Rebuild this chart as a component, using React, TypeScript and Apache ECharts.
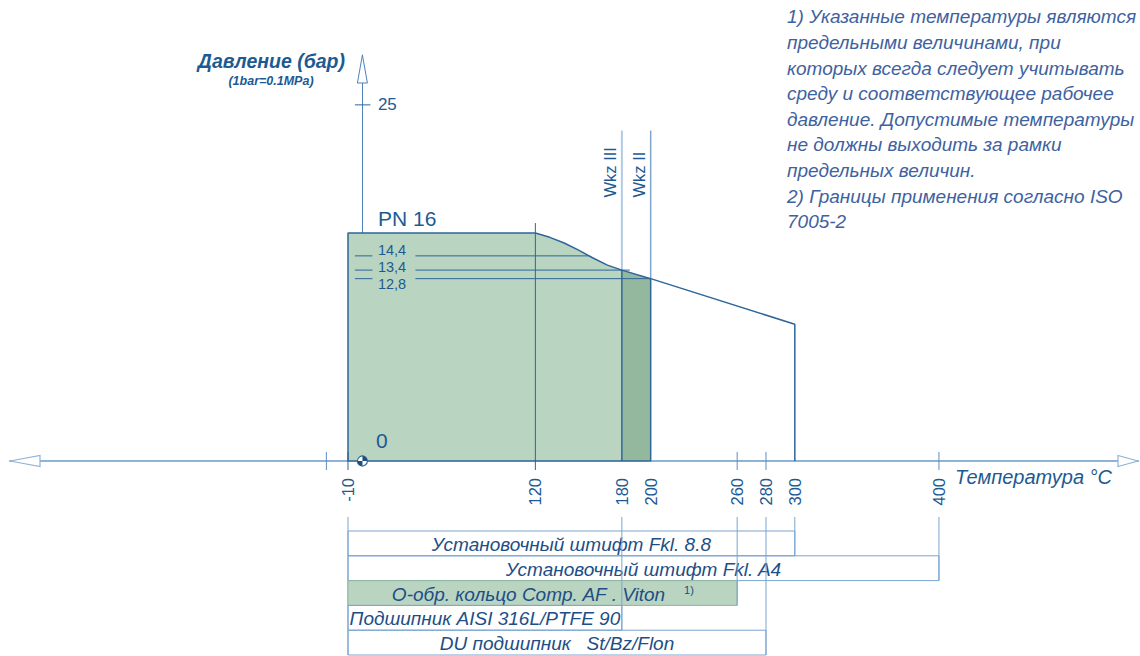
import React, { useEffect, useRef } from "react";
import * as echarts from "echarts";

// ---- data ----
const X_MIN = -244.5;
const X_MAX = 538.1;
const Y_MAX = 28.5;

// pressure-temperature limit curve (°C, bar)
const CURVE_T = [-10, 120, 130, 140, 150, 160, 170, 180, 200, 300];
const CURVE_P = [16, 16, 15.7, 15.3, 14.8, 14.25, 13.75, 13.4, 12.8, 9.6];

const X_LABELS = [-10, 120, 180, 200, 260, 280, 300, 400];
const X_TICKS = [-25, -10, 120, 260, 280, 400];
const Y_MARKS = [25, 14.4, 13.4, 12.8];
const WKZ_T = [180, 200];
const WKZ_LABELS = ["Wkz III", "Wkz II"];
const WKZ_TOP = 23.2;
const WKZ_LABEL_BOTTOM = 18.5;

const ROW_LABELS = [
  "Установочный штифт Fkl. 8.8",
  "Установочный штифт Fkl. A4",
  "О-обр. кольцо Comp. AF . Viton",
  "Подшипник AISI 316L/PTFE 90",
  "DU подшипник   St/Bz/Flon",
];
const ROW_START = [-10, -10, -10, -10, -10];
const ROW_END = [300, 400, 260, 180, 280];
const ROW_FILLED = [false, false, true, false, false];
const ROW_NOTE = ["", "", "1)", "", ""];

const NOTE_LINES = [
  "1) Указанные температуры являются",
  "предельными величинами, при",
  "которых всегда следует учитывать",
  "среду и соответствующее рабочее",
  "давление. Допустимые температуры",
  "не должны выходить за рамки",
  "предельных величин.",
  "2) Границы применения согласно ISO",
  "7005-2",
];

// ---- styles ----
const FONT = "'Liberation Sans', Arial, Helvetica, sans-serif";
const TEXT_BLUE = "#1d5a92";
const NOTE_BLUE = "#3e62a0";
const LINE_DARK = "#2e6699";
const LINE_MID = "#5d8fc0";
const LINE_LIGHT = "#b0cbe2";
const AXIS_LIGHT = "#8fb3d4";
const GREEN = "#b9d4c1";
const GREEN_DARK = "#93b89e";
const TABLE_LINE = "#7aa5cf";
const MARK_NUDGE = [0, -5.9, -3.1, 5.4];

function curveAt(t: number): number {
  for (let i = 0; i < CURVE_T.length - 1; i++) {
    const a = CURVE_T[i], b = CURVE_T[i + 1];
    if (t >= a && t <= b) {
      const f = b === a ? 0 : (t - a) / (b - a);
      return CURVE_P[i] + f * (CURVE_P[i + 1] - CURVE_P[i]);
    }
  }
  return 0;
}
function curveCross(v: number): number {
  for (let i = 1; i < CURVE_T.length - 1; i++) {
    const pa = CURVE_P[i], pb = CURVE_P[i + 1];
    if (v <= pa && v >= pb) {
      const f = pa === pb ? 0 : (pa - v) / (pa - pb);
      return CURVE_T[i] + f * (CURVE_T[i + 1] - CURVE_T[i]);
    }
  }
  return CURVE_T[0];
}

export default function App() {
  const ref = useRef<HTMLDivElement>(null);
  useEffect(() => {
    if (!ref.current) return;
    const chart = echarts.init(ref.current, null, { renderer: "svg" });
    const pts = CURVE_T.map((t, i) => [t, CURVE_P[i]]);
    const lightFill = pts.filter((p) => p[0] <= 180);
    const darkFill = pts.filter((p) => p[0] >= 180 && p[0] <= 200);
    const outline = [[200, 0], [-10, 0], ...pts, [300, 0]];

    const option: any = {
      animation: false,
      backgroundColor: "#ffffff",
      grid: [
        { left: 10, right: 2, top: 55, bottom: 195 },
        { left: 10, right: 2, top: 531, bottom: 1 },
      ],
      xAxis: [
        {
          type: "value",
          gridIndex: 0,
          min: X_MIN,
          max: X_MAX,
          axisLine: { show: true, onZero: true, lineStyle: { color: AXIS_LIGHT, width: 2 } },
          axisTick: { show: false },
          splitLine: { show: false },
          axisLabel: {
            customValues: X_LABELS,
            rotate: 90,
            margin: 17,
            color: TEXT_BLUE,
            fontSize: 16.5,
            fontFamily: FONT,
          },
        },
        { type: "value", gridIndex: 1, min: X_MIN, max: X_MAX, show: false },
      ],
      yAxis: [
        {
          type: "value",
          gridIndex: 0,
          min: 0,
          max: Y_MAX,
          axisLine: { show: true, onZero: true, lineStyle: { color: "#4f83b8", width: 1 } },
          axisTick: { show: false },
          axisLabel: { show: false },
          splitLine: { show: false },
        },
        { type: "category", gridIndex: 1, data: ROW_LABELS, inverse: true, show: false },
      ],
      series: [
        {
          type: "line",
          data: lightFill,
          showSymbol: false,
          lineStyle: { width: 0 },
          areaStyle: { color: GREEN, opacity: 1, origin: "start" },
          z: 1,
          silent: true,
        },
        {
          type: "line",
          data: darkFill,
          showSymbol: false,
          lineStyle: { width: 0 },
          areaStyle: { color: GREEN_DARK, opacity: 1, origin: "start" },
          z: 1,
          silent: true,
        },
        {
          // Wkz lines and labels
          type: "custom",
          xAxisIndex: 0,
          yAxisIndex: 0,
          z: 2,
          data: WKZ_T.map((t) => [t, curveAt(t)]),
          encode: { x: 0, y: 1 },
          renderItem: (params: any, api: any) => {
            const t = api.value(0);
            const v = api.value(1);
            const top = api.coord([t, WKZ_TOP]);
            const mid = api.coord([t, v]);
            const bot = api.coord([t, 0]);
            const lb = api.coord([t, WKZ_LABEL_BOTTOM]);
            const i = params.dataIndex;
            return {
              type: "group",
              children: [
                {
                  type: "line",
                  shape: { x1: top[0], y1: top[1], x2: mid[0], y2: mid[1] },
                  style: { stroke: i === 0 ? LINE_LIGHT : "#7fa6cb", lineWidth: i === 0 ? 2 : 1.5 },
                },
                {
                  type: "line",
                  shape: { x1: mid[0], y1: mid[1], x2: bot[0], y2: bot[1] },
                  style: { stroke: LINE_DARK, lineWidth: 1.5 },
                },
                {
                  type: "text",
                  x: top[0] - 12,
                  y: lb[1],
                  rotation: Math.PI / 2,
                  style: {
                    x: 0,
                    y: 0,
                    text: WKZ_LABELS[i],
                    align: "left",
                    verticalAlign: "middle",
                    fill: TEXT_BLUE,
                    font: `16.5px ${FONT}`,
                  },
                },
              ],
            };
          },
        },
        {
          // x ticks / guide lines
          type: "custom",
          xAxisIndex: 0,
          yAxisIndex: 0,
          z: 2,
          data: X_TICKS.map((t) => [t, 0]),
          encode: { x: 0, y: 1 },
          renderItem: (params: any, api: any) => {
            const t = api.value(0);
            const p = api.coord([t, 0]);
            let y1 = p[1] - 9;
            let color = LINE_MID;
            if (t === 120) {
              y1 = api.coord([t, curveAt(t)])[1] - 10;
              color = LINE_DARK;
            }
            if (t === -10) color = LINE_DARK;
            return {
              type: "line",
              shape: { x1: p[0], y1, x2: p[0], y2: p[1] + 9 },
              style: { stroke: color, lineWidth: 1 },
            };
          },
        },
        {
          type: "line",
          data: outline,
          showSymbol: false,
          lineStyle: { color: LINE_DARK, width: 1.5 },
          z: 3,
          silent: true,
        },
        {
          // y marks: ticks, labels, extension lines
          type: "custom",
          xAxisIndex: 0,
          yAxisIndex: 0,
          z: 4,
          data: Y_MARKS.map((v) => [0, v]),
          encode: { x: 0, y: 1 },
          renderItem: (params: any, api: any) => {
            const v = api.value(1);
            const i = params.dataIndex;
            const p = api.coord([0, v]);
            const children: any[] = [
              {
                type: "line",
                shape: { x1: p[0] - 7.5, y1: p[1], x2: p[0] + (v > 20 ? 8 : 10), y2: p[1] },
                style: { stroke: LINE_DARK, lineWidth: 1 },
              },
              {
                type: "text",
                style: {
                  x: p[0] + 15.5,
                  y: p[1] + MARK_NUDGE[i],
                  text: String(v).replace(".", ","),
                  align: "left",
                  verticalAlign: "middle",
                  fill: TEXT_BLUE,
                  font: `${v > 20 ? 17 : 14.5}px ${FONT}`,
                },
              },
            ];
            if (v < 20) {
              const e = api.coord([curveCross(v), v]);
              children.push({
                type: "line",
                shape: { x1: p[0] + 53, y1: p[1], x2: e[0] + (v === 13.4 ? 8 : 0), y2: p[1] },
                style: { stroke: LINE_DARK, lineWidth: 1 },
              });
            }
            return { type: "group", children };
          },
        },
        {
          // origin symbol + y arrow
          type: "custom",
          xAxisIndex: 0,
          yAxisIndex: 0,
          z: 5,
          data: [[0, 0]],
          encode: { x: 0, y: 1 },
          renderItem: (params: any, api: any) => {
            const o = api.coord([0, 0]);
            const top = api.coord([0, Y_MAX]);
            const r = 5;
            return {
              type: "group",
              children: [
                {
                  type: "polygon",
                  shape: { points: [[top[0], top[1]], [top[0] - 5, top[1] + 28], [top[0] + 5, top[1] + 28]] },
                  style: { fill: "#ffffff", stroke: "#4f83b8", lineWidth: 1 },
                },
                {
                  type: "circle",
                  shape: { cx: o[0], cy: o[1], r },
                  style: { fill: "#ffffff", stroke: LINE_DARK, lineWidth: 1.2 },
                },
                {
                  type: "sector",
                  shape: { cx: o[0], cy: o[1], r, r0: 0, startAngle: -Math.PI / 2, endAngle: 0 },
                  style: { fill: "#1f4f80" },
                },
                {
                  type: "sector",
                  shape: { cx: o[0], cy: o[1], r, r0: 0, startAngle: Math.PI / 2, endAngle: Math.PI },
                  style: { fill: "#1f4f80" },
                },
              ],
            };
          },
        },
        {
          // application ranges table
          type: "custom",
          xAxisIndex: 1,
          yAxisIndex: 1,
          z: 2,
          data: ROW_LABELS.map((l, i) => [ROW_START[i], ROW_END[i], i]),
          encode: { x: [0, 1], y: 2 },
          renderItem: (params: any, api: any) => {
            const i = params.dataIndex;
            const s = api.coord([api.value(0), i]);
            const e = api.coord([api.value(1), i]);
            const h = api.size([0, 1])[1];
            const top = s[1] - h / 2;
            const bottom = s[1] + h / 2;
            const extTop = params.coordSys.y - 14;
            const children: any[] = [
              {
                type: "rect",
                shape: { x: s[0], y: top, width: e[0] - s[0], height: h },
                style: {
                  fill: ROW_FILLED[i] ? GREEN : "rgba(255,255,255,0)",
                  stroke: ROW_FILLED[i] ? "#8fb5a0" : TABLE_LINE,
                  lineWidth: 1,
                },
              },
              {
                type: "line",
                shape: { x1: e[0], y1: extTop, x2: e[0], y2: bottom },
                style: { stroke: TABLE_LINE, lineWidth: 1 },
              },
              {
                type: "text",
                style: {
                  x: (s[0] + e[0]) / 2,
                  y: s[1] + 1,
                  text: ROW_NOTE[i] ? `{m|${ROW_LABELS[i]}}{s|      ${ROW_NOTE[i]}}` : `{m|${ROW_LABELS[i]}}`,
                  rich: {
                    m: { font: `italic 19px ${FONT}`, fill: "#1d4e86" },
                    s: { font: `11px ${FONT}`, fill: "#1d4e86", padding: [0, 0, 8, 0] },
                  },
                  align: "center",
                  verticalAlign: "middle",
                },
              },
            ];
            if (i === 0) {
              children.push({
                type: "line",
                shape: { x1: s[0], y1: extTop, x2: s[0], y2: params.coordSys.y + params.coordSys.height },
                style: { stroke: TABLE_LINE, lineWidth: 1 },
              });
            }
            return { type: "group", children };
          },
        },
      ],
      graphic: [
        {
          type: "polygon",
          z: 10,
          shape: { points: [[10, 461], [40, 455.5], [40, 466.5]] },
          style: { fill: "#ffffff", stroke: AXIS_LIGHT, lineWidth: 1.2 },
        },
        {
          type: "polygon",
          z: 10,
          shape: { points: [[1138, 461], [1118, 455.5], [1118, 466.5]] },
          style: { fill: "#ffffff", stroke: AXIS_LIGHT, lineWidth: 1.2 },
        },
        {
          type: "text",
          z: 10,
          style: {
            x: 345,
            y: 61,
            text: "Давление (бар)",
            align: "right",
            verticalAlign: "middle",
            fill: TEXT_BLUE,
            font: `italic bold 19.5px ${FONT}`,
          },
        },
        {
          type: "text",
          z: 10,
          style: {
            x: 271,
            y: 81,
            text: "(1bar=0.1MPa)",
            align: "center",
            verticalAlign: "middle",
            fill: TEXT_BLUE,
            font: `italic bold 12.5px ${FONT}`,
          },
        },
        {
          type: "text",
          z: 10,
          style: {
            x: 955,
            y: 477,
            text: "Температура °C",
            align: "left",
            verticalAlign: "middle",
            fill: TEXT_BLUE,
            font: `italic 20px ${FONT}`,
          },
        },
        {
          type: "text",
          z: 10,
          style: {
            x: 378,
            y: 218,
            text: "PN 16",
            align: "left",
            verticalAlign: "middle",
            fill: TEXT_BLUE,
            font: `21px ${FONT}`,
          },
        },
        {
          type: "text",
          z: 10,
          style: {
            x: 376,
            y: 440,
            text: "0",
            align: "left",
            verticalAlign: "middle",
            fill: TEXT_BLUE,
            font: `21px ${FONT}`,
          },
        },
        {
          type: "text",
          z: 10,
          style: {
            x: 787,
            y: 4,
            text: NOTE_LINES.join("\n"),
            align: "left",
            verticalAlign: "top",
            lineHeight: 25.6,
            fill: NOTE_BLUE,
            font: `italic 19px ${FONT}`,
          },
        },
      ],
    };
    chart.setOption(option);
    return () => chart.dispose();
  }, []);
  return (
    <div
      ref={ref}
      style={{ position: "absolute", left: 0, top: 0, width: 1140, height: 656, background: "#fff" }}
    />
  );
}
